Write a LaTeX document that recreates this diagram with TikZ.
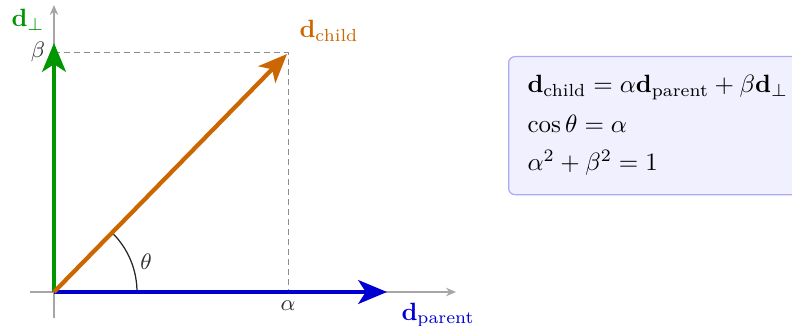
\documentclass[tikz,border=0pt]{standalone}
\usepackage{amsmath}
\usetikzlibrary{arrows.meta}
\definecolor{cgreen}{RGB}{0,150,0}
\definecolor{corange}{RGB}{204,102,0}
\definecolor{cblue}{RGB}{0,0,210}
\definecolor{cboxfill}{RGB}{240,240,255}
\definecolor{cboxdraw}{RGB}{170,170,245}
\begin{document}
\begin{tikzpicture}[x=0.4pt,y=-0.4pt,
  axisline/.style={draw=black!35,line width=0.45pt,-{Stealth[length=4pt,width=3.4pt]}},
  guide/.style={draw=black!45,line width=0.4pt,dash pattern=on 2.2pt off 1.8pt},
  vec/.style={line width=1.7pt,-{Stealth[length=11.5pt,width=9.5pt,inset=3pt]}},
  lbl/.style={inner sep=0pt,text=black!80,font=\small},
  eqline/.style={inner sep=0pt,anchor=base west},
  eqbox/.style={draw=cboxdraw,fill=cboxfill,line width=0.5pt,rounded corners=2.5pt,
    minimum width=120pt,minimum height=55.2pt,inner sep=0pt,anchor=north west}]
\useasboundingbox (0,0) rectangle (792,326);
% coordinates
\coordinate (O) at (54,292);
\coordinate (xs) at (30,292);
\coordinate (xe) at (456,292);
\coordinate (ys) at (54,318);
\coordinate (ye) at (54,5);
\coordinate (P) at (387,292);
\coordinate (Q) at (54,43);
\coordinate (C) at (287,54);
\coordinate (Cx) at (288,292);
\coordinate (Cy) at (54,53);
\coordinate (Cc) at (288,53);
\coordinate (A0) at (137,292);
% axes
\draw[axisline] (xs) -- (xe);
\draw[axisline] (ys) -- (ye);
% guides
\draw[guide] (Cy) -- (Cc) -- (Cx);
% angle arc
\draw[black!85,line width=0.5pt] (A0) arc[start angle=0,end angle=-45.7,radius=83];
% vectors
\draw[vec,cgreen] (O) -- (Q);
\draw[vec,cblue] (O) -- (P);
\draw[vec,corange] (O) -- (C);
% labels
\node[inner sep=0pt,anchor=base west,text=cgreen] (lperp) at (11,27) {$\mathbf{d}_\perp$};
\node[lbl] (lbeta) at (38,52) {$\beta$};
\node[inner sep=0pt,anchor=base west,text=corange] (lchild) at (299,38) {$\mathbf{d}_{\text{child}}$};
\node[lbl] (ltheta) at (146,262) {$\theta$};
\node[lbl] (lalpha) at (288,306) {$\alpha$};
\node[inner sep=0pt,anchor=base west,text=cblue] (lparent) at (401,320) {$\mathbf{d}_{\text{parent}}$};
% equation box
\node[eqbox] (box) at (508,56) {};
\node[eqline] (eq1) at (527,93) {$\mathbf{d}_{\text{child}} = \alpha\mathbf{d}_{\text{parent}} + \beta\mathbf{d}_\perp$};
\node[eqline] (eq2) at (527,133) {$\cos\theta = \alpha$};
\node[eqline] (eq3) at (527,171) {$\alpha^2 + \beta^2 = 1$};
\end{tikzpicture}
\end{document}
